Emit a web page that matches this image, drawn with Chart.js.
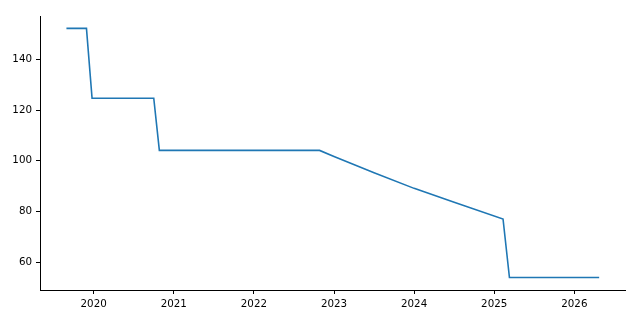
<!DOCTYPE html>
<html>
<head>
<meta charset="utf-8">
<script src="https://cdn.jsdelivr.net/npm/chart.js@4/dist/chart.umd.min.js"></script>
<style>
  html, body { margin: 0; padding: 0; background: #fff; }
  #wrap { width: 640px; height: 320px; }
</style>
</head>
<body>
<div id="wrap"><canvas id="lineChart"></canvas></div>
<script>
// dates as decimal years
const years = [2019.66, 2019.91, 2019.98, 2020.75, 2020.82, 2022.82, 2023.0, 2023.5, 2024.0, 2024.5, 2025.11, 2025.19, 2026.31];
const values = [152.3, 152.3, 124.7, 124.7, 104.1, 104.1, 101.7, 95.3, 89.1, 83.6, 77.0, 53.9, 53.9];
const xTicks = [2020, 2021, 2022, 2023, 2024, 2025, 2026];
const yTicks = [60, 80, 100, 120, 140];

document.addEventListener('DOMContentLoaded', function() {
  const points = years.map((x, i) => ({ x: x, y: values[i] }));
  const font = { family: 'DejaVu Sans', size: 10.3 };

  const ctx = document.getElementById('lineChart').getContext('2d');
  new Chart(ctx, {
    type: 'line',
    data: {
      datasets: [{
        data: points,
        borderColor: '#1f77b4',
        borderWidth: 1.6,
        pointRadius: 0,
        tension: 0,
        fill: false
      }]
    },
    options: {
      responsive: true,
      maintainAspectRatio: false,
      animation: false,
      layout: { padding: { top: 16, right: 14.4, left: 0, bottom: 0 } },
      plugins: {
        legend: { display: false },
        tooltip: { enabled: false }
      },
      scales: {
        x: {
          type: 'linear',
          min: 2019.33,
          max: 2026.64,
          afterBuildTicks: axis => { axis.ticks = xTicks.map(v => ({ value: v })); },
          afterFit: axis => { axis.height = 30; },
          border: { display: true, color: '#000', width: 1 },
          grid: { drawOnChartArea: false, drawTicks: true, tickLength: 4, tickColor: '#000' },
          ticks: { color: '#000', font: font, padding: 4, maxRotation: 0, callback: v => String(v) }
        },
        y: {
          type: 'linear',
          min: 48.95,
          max: 157.2,
          afterBuildTicks: axis => { axis.ticks = yTicks.map(v => ({ value: v })); },
          afterFit: axis => { axis.width = 40; },
          border: { display: true, color: '#000', width: 1 },
          grid: { drawOnChartArea: false, drawTicks: true, tickLength: 4, tickColor: '#000' },
          ticks: { color: '#000', font: font, padding: 4, callback: v => String(v) }
        }
      }
    }
  });
});
</script>
</body>
</html>
